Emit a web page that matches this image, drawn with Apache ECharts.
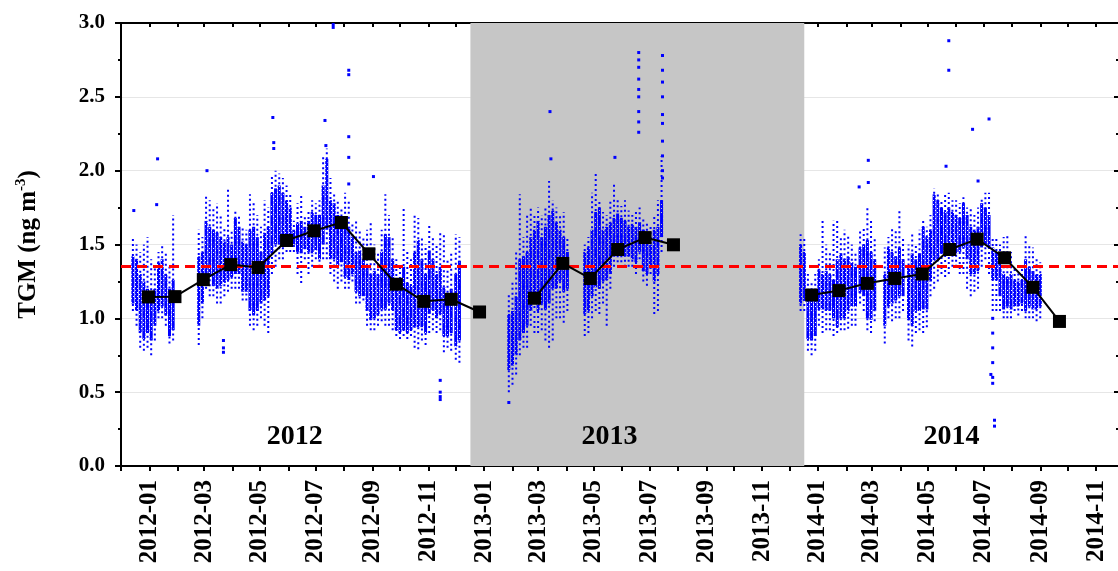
<!DOCTYPE html>
<html>
<head>
<meta charset="utf-8">
<script src="https://cdn.jsdelivr.net/npm/echarts@6/dist/echarts.min.js"></script>
<style>html,body{margin:0;padding:0;background:#fff}#c{width:1118px;height:571px}</style>
</head>
<body>
<div id="c"></div>
<script>
// ---- Data ----
// Continuous TGM records summarised as [date, low, coreLow, coreHigh, high]
const tgmRanges2012 = [
['2011-12-14',1.05,1.10,1.42,1.55],['2011-12-18',0.95,1.05,1.40,1.50],['2011-12-22',0.80,0.90,1.30,1.45],
['2011-12-26',0.78,0.86,1.25,1.50],['2011-12-30',0.80,0.90,1.20,1.55],['2012-01-03',0.75,0.85,1.15,1.40],
['2012-01-07',0.85,0.95,1.20,1.35],['2012-01-11',1.00,1.05,1.38,1.45],['2012-01-15',1.00,1.08,1.40,1.50],
['2012-01-19',0.95,1.02,1.30,1.45],['2012-01-23',0.83,0.88,1.20,1.35],['2012-01-27',0.85,0.92,1.26,1.70],
['2012-02-24',0.82,0.95,1.42,1.60],['2012-02-28',1.00,1.10,1.45,1.55],['2012-03-03',1.20,1.30,1.66,1.84],
['2012-03-07',1.15,1.28,1.62,1.80],['2012-03-11',1.15,1.22,1.60,1.75],['2012-03-15',1.10,1.20,1.58,1.78],
['2012-03-19',1.10,1.22,1.55,1.70],['2012-03-23',1.15,1.24,1.52,1.62],['2012-03-27',1.18,1.26,1.55,1.87],
['2012-03-31',1.20,1.28,1.50,1.60],['2012-04-04',1.20,1.30,1.68,1.73],['2012-04-08',1.20,1.30,1.62,1.70],
['2012-04-12',1.12,1.18,1.52,1.62],['2012-04-16',1.12,1.18,1.50,1.60],['2012-04-20',0.95,1.05,1.60,1.84],
['2012-04-24',0.92,1.02,1.62,1.80],['2012-04-28',0.95,1.05,1.55,1.70],['2012-05-02',1.00,1.10,1.45,1.62],
['2012-05-06',0.95,1.12,1.58,1.80],['2012-05-10',0.90,1.15,1.62,1.75],['2012-05-14',1.30,1.44,1.85,1.96],
['2012-05-18',1.35,1.50,1.88,2.00],['2012-05-22',1.40,1.50,1.90,1.98],['2012-05-26',1.40,1.52,1.85,1.95],
['2012-05-30',1.45,1.52,1.80,1.90],['2012-06-03',1.45,1.52,1.75,1.85],['2012-06-07',1.45,1.50,1.60,1.66],
['2012-06-11',1.30,1.45,1.64,1.78],['2012-06-15',1.24,1.44,1.66,1.84],['2012-06-19',1.40,1.47,1.62,1.70],
['2012-06-23',1.30,1.45,1.66,1.72],['2012-06-27',1.35,1.44,1.72,1.80],['2012-07-01',1.40,1.46,1.70,1.78],
['2012-07-05',1.35,1.40,1.70,1.80],['2012-07-09',1.40,1.50,1.90,2.10],['2012-07-13',1.40,1.60,2.08,2.15],
['2012-07-17',1.30,1.40,1.80,1.95],['2012-07-21',1.25,1.40,1.78,1.85],['2012-07-25',1.20,1.35,1.70,1.80],
['2012-07-29',1.25,1.38,1.65,1.75],['2012-08-02',1.20,1.28,1.66,1.85],['2012-08-06',1.20,1.26,1.62,1.80],
['2012-08-10',1.25,1.30,1.55,1.65],['2012-08-14',1.10,1.18,1.45,1.66],['2012-08-18',1.10,1.15,1.46,1.60],
['2012-08-22',1.12,1.15,1.40,1.55],['2012-08-26',0.95,1.05,1.35,1.60],['2012-08-30',0.92,0.99,1.30,1.66],
['2012-09-03',0.92,1.00,1.32,1.50],['2012-09-07',0.95,1.02,1.30,1.45],['2012-09-11',0.98,1.06,1.45,1.60],
['2012-09-15',0.95,1.06,1.57,1.84],['2012-09-19',0.95,1.10,1.55,1.70],['2012-09-23',0.92,1.05,1.40,1.55],
['2012-09-27',0.88,0.92,1.24,1.40],['2012-10-01',0.86,0.90,1.20,1.35],['2012-10-05',0.88,0.92,1.35,1.75],
['2012-10-09',0.86,0.90,1.24,1.45],['2012-10-13',0.88,0.92,1.22,1.40],['2012-10-17',0.80,0.94,1.45,1.71],
['2012-10-21',0.79,0.94,1.53,1.68],['2012-10-25',0.85,0.94,1.40,1.55],['2012-10-29',0.82,0.90,1.30,1.50],
['2012-11-02',0.90,1.03,1.46,1.63],['2012-11-06',0.92,1.05,1.40,1.55],['2012-11-10',0.90,1.00,1.30,1.50],
['2012-11-14',0.92,1.03,1.35,1.58],['2012-11-18',0.77,0.88,1.21,1.57],['2012-11-22',0.80,0.88,1.15,1.40],
['2012-11-26',0.78,0.90,1.20,1.45],['2012-12-01',0.72,0.81,1.30,1.57],['2012-12-05',0.70,0.85,1.39,1.55]
];
const tgmRanges2013 = [
['2013-01-28',0.50,0.65,1.03,1.17],['2013-02-01',0.55,0.68,1.05,1.25],['2013-02-05',0.62,0.75,1.15,1.45],
['2013-02-09',0.75,0.85,1.40,1.84],['2013-02-13',0.80,0.90,1.42,1.55],['2013-02-17',0.80,0.95,1.45,1.70],
['2013-02-21',0.95,1.05,1.55,1.75],['2013-02-25',0.90,1.10,1.60,1.70],['2013-03-01',0.90,1.05,1.66,1.75],
['2013-03-05',0.92,1.10,1.55,1.70],['2013-03-09',0.85,1.06,1.62,1.75],['2013-03-13',0.80,1.10,1.70,1.93],
['2013-03-17',0.85,1.20,1.73,1.80],['2013-03-21',1.00,1.20,1.65,1.75],['2013-03-25',1.00,1.25,1.60,1.70],
['2013-03-29',0.97,1.18,1.55,1.72],['2013-04-02',1.05,1.20,1.45,1.55],
['2013-04-21',0.88,1.03,1.45,1.50],['2013-04-25',0.90,1.05,1.48,1.55],['2013-04-29',1.00,1.15,1.60,1.85],
['2013-05-03',1.05,1.21,1.72,1.98],['2013-05-07',1.03,1.20,1.75,1.80],['2013-05-11',1.10,1.25,1.60,1.72],
['2013-05-15',0.95,1.26,1.62,1.70],['2013-05-19',1.20,1.30,1.65,1.80],['2013-05-23',1.35,1.42,1.68,1.91],
['2013-05-27',1.38,1.44,1.71,1.80],['2013-05-31',1.38,1.44,1.68,1.76],['2013-06-04',1.35,1.42,1.66,1.80],
['2013-06-08',1.35,1.42,1.62,1.73],['2013-06-12',1.35,1.40,1.64,1.70],['2013-06-16',1.30,1.38,1.62,1.72],
['2013-06-20',1.40,1.45,1.65,1.75],['2013-06-24',1.25,1.32,1.60,1.68],['2013-06-28',1.22,1.30,1.55,1.65],
['2013-07-02',1.30,1.35,1.50,1.62],['2013-07-06',1.03,1.25,1.60,1.70],['2013-07-10',1.05,1.30,1.62,1.80],
['2013-07-14',1.45,1.55,1.80,2.10]
];
const tgmRanges2014 = [
['2013-12-13',1.05,1.10,1.50,1.57],['2013-12-17',1.05,1.12,1.45,1.55],['2013-12-21',0.78,0.86,1.17,1.30],
['2013-12-25',0.75,0.85,1.15,1.25],['2013-12-29',0.78,0.88,1.20,1.30],['2014-01-02',0.95,1.06,1.33,1.40],
['2014-01-06',0.90,1.06,1.30,1.66],['2014-01-10',0.92,1.05,1.32,1.50],['2014-01-14',0.92,1.05,1.30,1.45],
['2014-01-18',0.88,1.00,1.26,1.66],['2014-01-22',0.90,0.94,1.40,1.66],['2014-01-26',0.92,1.00,1.44,1.55],
['2014-01-30',0.92,1.00,1.40,1.60],['2014-02-03',0.93,1.05,1.42,1.57],['2014-02-07',0.95,1.08,1.38,1.50],
['2014-02-11',0.95,1.08,1.35,1.45],['2014-02-16',1.10,1.17,1.48,1.60],['2014-02-20',1.05,1.15,1.50,1.62],
['2014-02-24',0.92,1.00,1.53,1.75],['2014-02-28',0.90,0.99,1.45,1.68],['2014-03-04',0.98,1.05,1.40,1.55],
['2014-03-15',0.83,0.95,1.30,1.48],['2014-03-19',1.00,1.08,1.48,1.55],['2014-03-23',0.98,1.10,1.45,1.62],
['2014-03-27',1.00,1.12,1.42,1.60],['2014-03-31',1.00,1.15,1.48,1.74],['2014-04-04',1.05,1.15,1.40,1.55],
['2014-04-10',0.85,0.99,1.35,1.50],['2014-04-14',0.81,0.95,1.44,1.57],['2014-04-18',0.90,1.05,1.40,1.50],
['2014-04-22',0.92,1.05,1.44,1.60],['2014-04-26',0.90,1.06,1.62,1.66],['2014-04-30',0.94,1.06,1.55,1.62],
['2014-05-04',1.15,1.25,1.60,1.70],['2014-05-08',1.20,1.39,1.84,1.88],['2014-05-12',1.25,1.40,1.80,1.85],
['2014-05-16',1.30,1.44,1.75,1.80],['2014-05-20',1.28,1.44,1.72,1.85],['2014-05-24',1.30,1.45,1.75,1.85],
['2014-05-28',1.35,1.45,1.72,1.80],['2014-06-01',1.35,1.44,1.70,1.80],['2014-06-05',1.30,1.45,1.68,1.78],
['2014-06-09',1.30,1.48,1.78,1.82],['2014-06-13',1.20,1.40,1.70,1.75],['2014-06-17',1.15,1.30,1.62,1.74],
['2014-06-21',1.18,1.30,1.60,1.70],['2014-06-25',1.20,1.32,1.62,1.75],['2014-06-29',1.35,1.48,1.78,1.82],
['2014-07-03',1.40,1.50,1.75,1.85],['2014-07-07',1.30,1.48,1.70,1.85],['2014-07-11',1.05,1.26,1.48,1.55],
['2014-07-15',1.05,1.26,1.45,1.55],['2014-07-19',1.05,1.15,1.40,1.50],['2014-07-23',1.00,1.06,1.30,1.55],
['2014-07-27',1.00,1.08,1.28,1.57],['2014-07-31',1.00,1.06,1.30,1.45],['2014-08-04',1.05,1.08,1.26,1.35],
['2014-08-08',1.02,1.08,1.25,1.32],['2014-08-12',1.05,1.10,1.26,1.35],['2014-08-16',1.00,1.05,1.40,1.57],
['2014-08-20',1.00,1.08,1.35,1.50],['2014-08-24',1.00,1.06,1.32,1.48],['2014-08-28',0.98,1.06,1.30,1.40],
['2014-09-01',1.00,1.08,1.30,1.38]
];
// Isolated readings outside the main band: [date, value]
const tgmOutliers = [
['2011-12-15',1.73],['2012-01-09',1.77],['2012-01-10',2.08],['2012-03-04',2.00],['2012-03-22',0.85],['2012-03-22',0.80],['2012-03-22',0.77],
['2012-05-15',2.36],['2012-05-16',2.19],['2012-05-16',2.15],['2012-07-11',2.34],['2012-07-12',2.17],['2012-07-20',2.97],['2012-07-20',2.99],
['2012-08-06',2.68],['2012-08-06',2.65],['2012-08-06',2.23],['2012-08-06',2.09],['2012-08-06',1.91],['2012-09-02',1.96],
['2012-11-14',0.58],['2012-11-14',0.50],['2012-11-14',0.47],['2012-11-14',0.45],['2013-01-28',0.43],['2013-03-14',2.40],['2013-03-15',2.08],
['2013-05-24',2.09],['2013-06-19',2.80],['2013-06-19',2.75],['2013-06-19',2.70],['2013-06-19',2.62],['2013-06-19',2.55],['2013-06-19',2.50],
['2013-06-19',2.40],['2013-06-19',2.33],['2013-06-19',2.26],['2013-07-15',2.78],['2013-07-15',2.68],['2013-07-15',2.60],['2013-07-15',2.50],
['2013-07-15',2.38],['2013-07-15',2.32],['2013-07-15',2.20],['2013-07-15',2.10],['2013-07-15',2.00],['2013-07-15',1.95],
['2014-02-15',1.89],['2014-02-25',2.07],['2014-02-25',1.92],['2014-05-21',2.03],['2014-05-24',2.88],['2014-05-24',2.68],
['2014-06-19',2.28],['2014-06-25',1.93],['2014-07-07',2.35],['2014-07-09',0.62],['2014-07-11',1.00],['2014-07-11',0.90],
['2014-07-11',0.80],['2014-07-11',0.70],['2014-07-11',0.60],['2014-07-11',0.56],['2014-07-13',0.31],['2014-07-13',0.27]
];
// Monthly means (black squares)
const meanDates2012 = ['2011-12-31','2012-01-29','2012-02-29','2012-03-30','2012-04-29','2012-05-30','2012-06-29','2012-07-29','2012-08-28','2012-09-27','2012-10-27','2012-11-26','2012-12-27'];
const meanValues2012 = [1.145,1.147,1.262,1.364,1.344,1.527,1.593,1.649,1.437,1.231,1.115,1.129,1.043];
const meanDates2013 = ['2013-02-25','2013-03-28','2013-04-27','2013-05-27','2013-06-26','2013-07-27'];
const meanValues2013 = [1.136,1.372,1.270,1.466,1.547,1.498];
const meanDates2014 = ['2013-12-25','2014-01-24','2014-02-24','2014-03-26','2014-04-25','2014-05-25','2014-06-24','2014-07-24','2014-08-24','2014-09-22'];
const meanValues2014 = [1.158,1.188,1.237,1.270,1.300,1.466,1.536,1.410,1.210,0.979];
// Reference level (red dashed line) and shaded year
const referenceLevel = 1.35;
const shadedPeriod = ['2012-12-17','2013-12-17'];
const yearNames = ['2012','2013','2014'];
const yearAnchorDates = ['2012-06-08','2013-05-18','2014-05-27'];
const yearAnchorValue = 0.2;
// Axis labels
const xTickLabels = ['2012-01','2012-03','2012-05','2012-07','2012-09','2012-11','2013-01','2013-03','2013-05','2013-07','2013-09','2013-11','2014-01','2014-03','2014-05','2014-07','2014-09','2014-11'];
const xRange = ['2011-12-01','2014-11-25'];

// ---- Chart ----
const DAY = 86400000;
const FONT = "'Liberation Serif','Times New Roman',serif";
function t(s){const p=s.split('-');return new Date(+p[0],+p[1]-1,p[2]?+p[2]:1).getTime();}
function pad(n){return (n<10?'0':'')+n;}
function fmtMonth(v){const d=new Date(v);return d.getFullYear()+'-'+pad(d.getMonth()+1);}
const labelValues = xTickLabels.map(t);
const xMin = t(xRange[0]), xMax = t(xRange[1]);
const monthTicks = [];
{const a=new Date(xMin);for(let i=0;i<36;i++){const v=new Date(a.getFullYear(),a.getMonth()+i,1).getTime(); if(v<=xMax) monthTicks.push(v);}}

// speckled blue fill imitating dense hourly dots
const speck = document.createElement('canvas');
speck.width = 4; speck.height = 4;
{const g = speck.getContext('2d'); g.fillStyle = '#0000ff'; g.fillRect(0,0,4,4);
 g.clearRect(1,0,1,1); g.clearRect(3,2,1,1);}
const speckFill = {image: speck, repeat: 'repeat'};

const chart = echarts.init(document.getElementById('c'), null, {renderer:'canvas'});

function renderRange(params, api){
  const d = api.value(0);
  const lo = api.coord([d, api.value(1)]);
  const q1 = api.coord([d, api.value(2)]);
  const q3 = api.coord([d, api.value(3)]);
  const hi = api.coord([d, api.value(4)]);
  const w = api.size([3.3*DAY, 0])[0];
  return {type:'group', children:[
    {type:'line', shape:{x1:lo[0],y1:lo[1],x2:hi[0],y2:hi[1]}, style:{stroke:'#0000ff', lineWidth:2, lineDash:[2,3]}},
    {type:'rect', shape:{x:q3[0]-w/2, y:q3[1], width:w, height:q1[1]-q3[1]}, style:{fill:speckFill}}
  ]};
}
const rangeSeries = [tgmRanges2012, tgmRanges2013, tgmRanges2014].map(d => ({
  type:'custom', renderItem:renderRange, data:d.map(r=>[t(r[0]),r[1],r[2],r[3],r[4]]),
  encode:{x:0,y:[1,2,3,4]}, z:2, silent:true
}));
function meanSeries(dates, vals){
  return {type:'line', data:dates.map((d,i)=>[t(d),vals[i]]), symbol:'rect', symbolSize:13,
    itemStyle:{color:'#000', opacity:1}, lineStyle:{color:'#000', width:2}, z:5, silent:true};
}

chart.setOption({
  backgroundColor:'#fff',
  animation:false,
  grid:{left:121, top:23, width:998, height:443, containLabel:false},
  xAxis:[{
    type:'value', min:xMin, max:xMax, position:'bottom',
    axisLine:{show:true, onZero:false, lineStyle:{color:'#000', width:2}},
    axisTick:{show:true, inside:false, length:5, lineStyle:{color:'#000', width:2}, customValues:monthTicks},
    axisLabel:{show:true, rotate:90, margin:14, customValues:labelValues, formatter:fmtMonth,
      fontFamily:FONT, fontWeight:'bold', fontSize:25, color:'#000'},
    splitLine:{show:false}
  },{
    type:'value', min:xMin, max:xMax, position:'top',
    axisLine:{show:true, onZero:false, lineStyle:{color:'#000', width:2}},
    axisTick:{show:true, inside:true, length:4, lineStyle:{color:'#000', width:2}, customValues:monthTicks},
    axisLabel:{show:false}, splitLine:{show:false}
  }],
  yAxis:[{
    type:'value', min:0, max:3, interval:0.5, position:'left',
    name:'TGM (ng m{sup|-3})', nameLocation:'middle', nameGap:78, nameRotate:90,
    nameTextStyle:{fontFamily:FONT, fontWeight:'bold', fontSize:25, color:'#000',
      rich:{sup:{fontFamily:FONT, fontWeight:'bold', fontSize:15, color:'#000', padding:[0,0,14,0]}}},
    axisLine:{show:true, lineStyle:{color:'#000', width:2}},
    axisTick:{show:true, inside:false, length:6, lineStyle:{color:'#000', width:2}},
    minorTick:{show:true, splitNumber:2, length:3, lineStyle:{color:'#000', width:2}},
    axisLabel:{margin:16, formatter:v=>v.toFixed(1), fontFamily:FONT, fontWeight:'bold', fontSize:21, color:'#000'},
    splitLine:{show:true, lineStyle:{color:'#e6e6e6', width:1}}
  },{
    type:'value', min:0, max:3, interval:0.5, position:'right',
    axisLine:{show:false},
    axisTick:{show:true, inside:true, length:4, lineStyle:{color:'#000', width:2}},
    minorTick:{show:true, splitNumber:2, length:2, lineStyle:{color:'#000', width:2}},
    axisLabel:{show:false}, splitLine:{show:false}
  }],
  series:[
    {type:'line', data:[], z:-1, silent:true,
      markArea:{silent:true, itemStyle:{color:'#c6c6c6'}, data:[[{xAxis:t(shadedPeriod[0])},{xAxis:t(shadedPeriod[1])}]]}},
    ...rangeSeries,
    {type:'scatter', data:tgmOutliers.map(r=>[t(r[0]),r[1]]), symbol:'rect', symbolSize:3, itemStyle:{color:'#0000ff', opacity:1}, z:2, silent:true},
    {type:'line', data:[], z:3, silent:true,
      markLine:{silent:true, symbol:'none', label:{show:false},
        lineStyle:{color:'#ff0000', width:3, type:[10,6]}, data:[{yAxis:referenceLevel}]}},
    meanSeries(meanDates2012, meanValues2012),
    meanSeries(meanDates2013, meanValues2013),
    meanSeries(meanDates2014, meanValues2014),
    {type:'scatter', symbolSize:0, z:6, silent:true, itemStyle:{opacity:1},
      data:yearNames.map((n,i)=>({value:[t(yearAnchorDates[i]), yearAnchorValue], name:n})),
      label:{show:true, position:'inside', formatter:p=>p.name, fontFamily:FONT, fontWeight:'bold', fontSize:28, color:'#000', opacity:1, textBorderWidth:0}}
  ]
});
</script>
</body>
</html>
